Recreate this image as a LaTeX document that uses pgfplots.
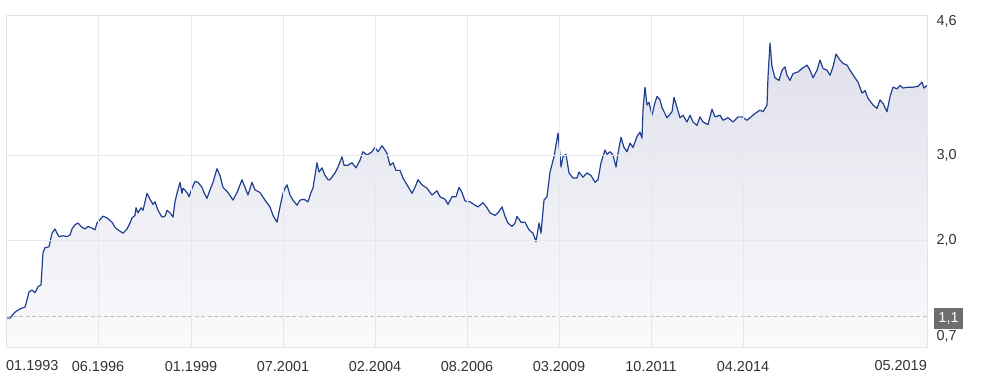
\documentclass[border=0pt]{standalone}
\usepackage{pgfplots}
\usepackage{pgfplotstable}
\pgfplotsset{compat=1.18}
\usepackage{fontspec}
\setmainfont{Liberation Sans}
\definecolor{linec}{HTML}{1F3F8F}
\definecolor{filltop}{HTML}{E0E0EC}
\definecolor{fillbot}{HTML}{FAFAFC}
\definecolor{gridc}{HTML}{E8E8EC}
\definecolor{framec}{HTML}{E4E4E8}
\definecolor{textc}{HTML}{333333}
\definecolor{boxc}{HTML}{6E6E6E}
\definecolor{dashc}{HTML}{BDBDC4}

\pgfplotstableread{
x y
6 1.08
10 1.08
15 1.15
20 1.19
25 1.21
27 1.29
29 1.39
32 1.41
35 1.38
38 1.45
41 1.47
43 1.85
45 1.91
49 1.92
52 2.08
55 2.13
57 2.08
59 2.04
63 2.05
67 2.04
70 2.06
72 2.13
75 2.18
78 2.20
82 2.15
85 2.13
88 2.16
92 2.14
95 2.12
97 2.20
100 2.24
103 2.28
107 2.26
112 2.21
115 2.15
118 2.12
123 2.08
127 2.13
130 2.20
132 2.26
135 2.29
136 2.38
138 2.32
141 2.38
143 2.35
147 2.55
150 2.48
153 2.42
155 2.45
158 2.35
162 2.27
165 2.28
167 2.35
170 2.32
173 2.27
175 2.45
177 2.55
180 2.68
182 2.55
183 2.61
187 2.56
189 2.51
192 2.61
195 2.69
198 2.68
202 2.62
204 2.56
207 2.49
210 2.59
213 2.68
217 2.84
220 2.76
223 2.62
228 2.56
233 2.47
237 2.56
239 2.62
242 2.71
244 2.65
248 2.53
252 2.68
255 2.59
260 2.56
265 2.47
270 2.39
273 2.29
277 2.21
280 2.39
283 2.55
285 2.61
287 2.65
290 2.53
293 2.47
297 2.41
300 2.47
304 2.48
308 2.45
311 2.56
313 2.61
317 2.91
319 2.80
322 2.85
325 2.76
328 2.71
330 2.71
335 2.79
338 2.86
342 2.98
344 2.88
348 2.88
352 2.91
356 2.85
360 2.94
363 3.04
367 3.00
372 3.04
375 3.09
378 3.04
382 3.11
385 3.06
387 3.02
390 2.88
393 2.91
396 2.82
400 2.82
403 2.73
407 2.65
412 2.55
415 2.62
418 2.71
422 2.65
427 2.61
432 2.53
437 2.58
440 2.51
445 2.48
448 2.42
452 2.51
456 2.51
459 2.62
462 2.56
465 2.46
470 2.45
475 2.41
478 2.39
483 2.44
487 2.38
490 2.32
495 2.29
498 2.32
502 2.39
505 2.28
508 2.20
512 2.16
515 2.20
517 2.28
521 2.21
525 2.21
529 2.12
533 2.08
536 1.98
539 2.20
541 2.08
544 2.47
547 2.51
550 2.80
554 2.98
558 3.26
561 2.86
563 2.98
566 3.01
569 2.79
573 2.73
577 2.73
579 2.80
583 2.74
587 2.79
591 2.76
595 2.68
598 2.71
601 2.91
605 3.06
607 3.01
610 3.04
613 3.00
616 2.86
618 3.02
621 3.21
624 3.09
627 3.04
630 3.14
633 3.09
637 3.22
640 3.27
642 3.20
643 3.53
645 3.80
647 3.59
649 3.62
652 3.47
655 3.62
657 3.69
660 3.65
662 3.56
667 3.44
672 3.51
674 3.68
677 3.56
680 3.44
683 3.47
687 3.39
690 3.47
693 3.39
697 3.35
700 3.45
703 3.39
708 3.36
712 3.54
715 3.45
720 3.47
723 3.41
728 3.44
733 3.39
738 3.45
742 3.45
747 3.41
750 3.44
755 3.49
760 3.53
763 3.51
767 3.59
768 3.92
770 4.32
772 4.04
775 3.91
779 3.88
782 4.00
785 4.04
787 3.94
790 3.88
793 3.96
798 3.98
802 4.02
807 4.06
810 4.00
813 3.91
817 4.00
820 4.12
823 4.02
827 4.00
830 3.94
833 4.04
836 4.19
840 4.12
843 4.08
847 4.06
850 4.00
855 3.91
858 3.86
862 3.73
865 3.76
868 3.67
873 3.59
877 3.55
880 3.65
883 3.61
887 3.51
890 3.69
893 3.80
897 3.78
900 3.82
903 3.79
908 3.80
913 3.80
918 3.81
922 3.86
924 3.79
927 3.82
}\pricedata

\begin{document}
\begin{tikzpicture}
\path[use as bounding box] (0,0) rectangle (985bp,387bp);
\begin{axis}[
  at={(6bp,40bp)}, anchor=south west,
  scale only axis, width=921bp, height=332bp,
  xmin=6, xmax=927, ymin=0.74, ymax=4.65,
  axis on top,
  clip mode=individual,
  axis line style={draw=framec, line width=0.8bp},
  grid=major, grid style={draw=gridc, line width=0.8bp},
  major tick length=0pt,
  xtick={98,191,283,375,467,559,651,743},
  xticklabels={06.1996,01.1999,07.2001,02.2004,08.2006,03.2009,10.2011,04.2014},
  ytick={2,3},
  yticklabels={{2,0},{3,0}},
  extra y ticks={4.57,0.86},
  extra y tick labels={{4,6},{0,7}},
  extra y tick style={grid=none},
  yticklabel pos=right,
  tick label style={font=\fontsize{14.5}{17}\selectfont, text=textc},
  xticklabel style={yshift=-11bp},
  yticklabel style={anchor=west, xshift=6bp},
]
\addplot[draw=none, top color=filltop, bottom color=fillbot] table[x=x,y=y] {\pricedata} \closedcycle;
\addplot[dashc, line width=0.8bp, dash pattern=on 4bp off 2.5bp] coordinates {(6,1.1) (927,1.1)};
\addplot[linec, line width=1.2bp, line join=round] table[x=x,y=y] {\pricedata};
\end{axis}
\node[anchor=north west, font=\fontsize{14.5}{17}\selectfont, text=textc, inner sep=0pt] at (6bp,26.5bp) {01.1993};
\node[anchor=north east, font=\fontsize{14.5}{17}\selectfont, text=textc, inner sep=0pt] at (927bp,26.5bp) {05.2019};
\node[fill=boxc, text=white, font=\fontsize{14.5}{17}\selectfont, minimum width=29bp, minimum height=21bp, inner sep=0pt] at (948.5bp,68.5bp) {1,1};
\end{tikzpicture}
\end{document}
